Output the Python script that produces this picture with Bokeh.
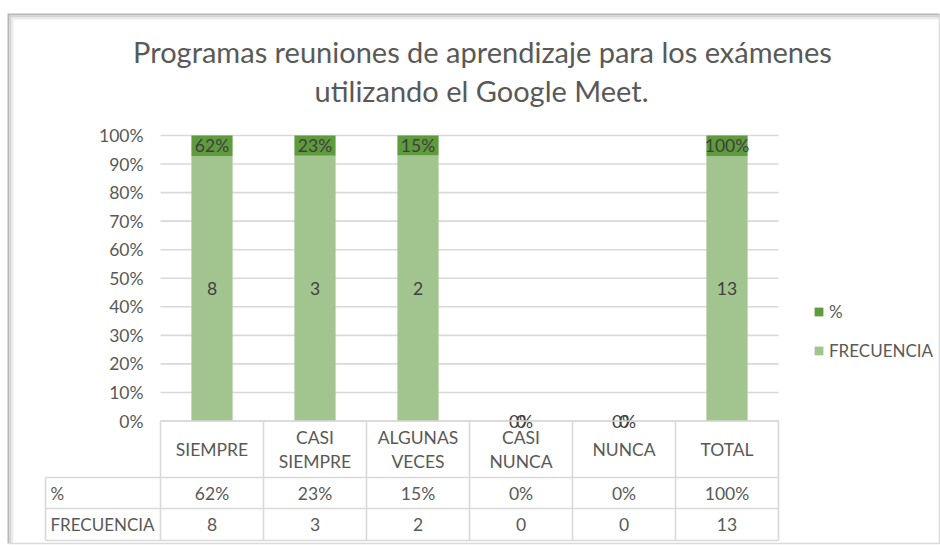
from bokeh.plotting import figure
from bokeh.models import Range1d, ColumnDataSource, Legend, LegendItem
from bokeh.core.properties import value
from bokeh.embed import file_html
from bokeh.resources import INLINE

# ---------------- data ----------------
categories = ["SIEMPRE", "CASI SIEMPRE", "ALGUNAS VECES", "CASI NUNCA", "NUNCA", "TOTAL"]
frecuencia = [8, 3, 2, 0, 0, 13]
porcentaje = [0.62, 0.23, 0.15, 0.0, 0.0, 1.0]
series_names = ["%", "FRECUENCIA"]
row_labels = ["%", "FRECUENCIA"]
y_ticks = [0.0, 0.1, 0.2, 0.3, 0.4, 0.5, 0.6, 0.7, 0.8, 0.9, 1.0]
title_lines = ["Programas reuniones de aprendizaje para los exámenes",
               "utilizando el Google Meet."]

# ---------------- geometry helpers (pixel -> data) ----------------
W, H = 940, 545
OX, OY = 0, 0               # page offset of the canvas
X0, Y0 = 160.0, 420.5       # page px of x=0 / y=0
SX, SY = 103.0, 285.5       # px per unit
def px2x(X): return (X - X0) / SX
def px2y(Y): return (Y0 - Y) / SY

FONT = value("Lato")
GREY = "#595959"
DARK = "#404040"
LINE = "#d9d9d9"
C_PCT = "#5e9b3c"
C_FREQ = "#a2c48f"
FS = "17.5px"

p = figure(width=W, height=H, output_backend="svg", toolbar_location=None,
           x_range=Range1d(px2x(OX), px2x(OX + W)), y_range=Range1d(px2y(OY + H), px2y(OY)),
           min_border=0, min_border_left=0, min_border_right=0,
           min_border_top=0, min_border_bottom=0)
p.axis.visible = False
p.grid.visible = False
p.outline_line_color = None
p.background_fill_color = "white"
p.border_fill_color = "white"

n = len(categories)
xs = [i + 0.5 for i in range(n)]
f_norm, p_norm = [], []
for f, q in zip(frecuencia, porcentaje):
    t = f + q
    f_norm.append(f / t if t else 0.0)
    p_norm.append(q / t if t else 0.0)

# ---------------- chart box shadow ----------------
x_left, x_right = px2x(8), px2x(939)
p.segment(x0=[x_left] * 3, x1=[x_right] * 3,
          y0=[px2y(14), px2y(16), px2y(18)], y1=[px2y(14), px2y(16), px2y(18)],
          line_color=["#b8b8b8", "#d4d4d4", "#ececec"], line_width=2)
p.segment(x0=[px2x(8), px2x(10), px2x(12)], x1=[px2x(8), px2x(10), px2x(12)],
          y0=[px2y(13), px2y(15), px2y(17)], y1=[px2y(543)] * 3,
          line_color=["#b8b8b8", "#d4d4d4", "#ececec"], line_width=2)
p.segment(x0=[px2x(8), x_right], x1=[x_right, x_right],
          y0=[px2y(543), px2y(14)], y1=[px2y(543), px2y(543)],
          line_color="#dadada", line_width=1.5)

# ---------------- gridlines ----------------
p.segment(x0=[0] * len(y_ticks), x1=[n] * len(y_ticks), y0=y_ticks, y1=y_ticks,
          line_color=LINE, line_width=1.6)

# y tick labels
p.text(x=[px2x(143)] * len(y_ticks), y=y_ticks,
       text=[f"{int(round(t * 100))}%" for t in y_ticks],
       text_align="right", text_baseline="middle", text_font=FONT,
       text_font_size=FS, text_color=GREY)

# ---------------- bars ----------------
src = ColumnDataSource(dict(x=xs, f0=[0.0] * n, f1=f_norm,
                            p0=f_norm, p1=[a + b for a, b in zip(f_norm, p_norm)]))
r_freq = p.vbar(x="x", bottom="f0", top="f1", width=0.4, source=src,
                fill_color=C_FREQ, line_color=None)
r_pct = p.vbar(x="x", bottom="p0", top="p1", width=0.4, source=src,
               fill_color=C_PCT, line_color=None)

# data labels
p.text(x=xs, y=[a / 2 for a in f_norm], text=[str(v) for v in frecuencia],
       text_align="center", text_baseline="middle", text_font=FONT,
       text_font_size=FS, text_color=DARK)
p.text(x=xs, y=[a + b / 2 for a, b in zip(f_norm, p_norm)],
       text=[f"{int(round(v * 100))}%" for v in porcentaje],
       text_align="center", text_baseline="middle", text_font=FONT,
       text_font_size=FS, text_color=DARK)

# ---------------- data table ----------------
y_head_bot = px2y(477)
y_pct_bot = px2y(508)
y_tab_bot = px2y(540)
x_tab_left = px2x(45)
# horizontal lines
p.segment(x0=[0, x_tab_left, x_tab_left, x_tab_left], x1=[n] * 4,
          y0=[0, y_head_bot, y_pct_bot, y_tab_bot], y1=[0, y_head_bot, y_pct_bot, y_tab_bot],
          line_color=LINE, line_width=1.6)
# vertical lines
vx = list(range(n + 1)) + [x_tab_left]
vy0 = [0] * (n + 1) + [y_head_bot]
p.segment(x0=vx, x1=vx, y0=vy0, y1=[y_tab_bot] * len(vx), line_color=LINE, line_width=1.6)

# header labels (category names)
p.text(x=xs, y=[y_head_bot / 2] * n, text=[c.replace(" ", "\n") for c in categories],
       text_align="center", text_baseline="middle", text_font=FONT,
       text_font_size=FS, text_color=GREY, text_line_height=1.12)
# row labels
p.text(x=[px2x(50)] * 2, y=[(y_head_bot + y_pct_bot) / 2, (y_pct_bot + y_tab_bot) / 2],
       text=row_labels, text_align="left", text_baseline="middle", text_font=FONT,
       text_font_size="17px", text_color=GREY)
# row values
p.text(x=xs, y=[(y_head_bot + y_pct_bot) / 2] * n,
       text=[f"{int(round(v * 100))}%" for v in porcentaje],
       text_align="center", text_baseline="middle", text_font=FONT,
       text_font_size=FS, text_color=GREY)
p.text(x=xs, y=[(y_pct_bot + y_tab_bot) / 2] * n, text=[str(v) for v in frecuencia],
       text_align="center", text_baseline="middle", text_font=FONT,
       text_font_size=FS, text_color=GREY)

# ---------------- title ----------------
p.text(x=[px2x(482), px2x(481)], y=[px2y(51), px2y(90)], text=title_lines,
       text_align="center", text_baseline="middle", text_font=FONT,
       text_font_size="29px", text_color=GREY)

# ---------------- legend ----------------
legend = Legend(items=[LegendItem(label=series_names[0], renderers=[r_pct]),
                       LegendItem(label=series_names[1], renderers=[r_freq])],
                location=(813 - OX, (OY + H) - 361), orientation="vertical",
                glyph_width=11, glyph_height=11, label_standoff=5,
                spacing=18, padding=0, margin=0, border_line_color=None,
                background_fill_alpha=0, label_text_font="Lato",
                label_text_font_size="17px", label_text_color=GREY)
p.add_layout(legend, "center")

open("out.html", "w").write(file_html(p, INLINE))
